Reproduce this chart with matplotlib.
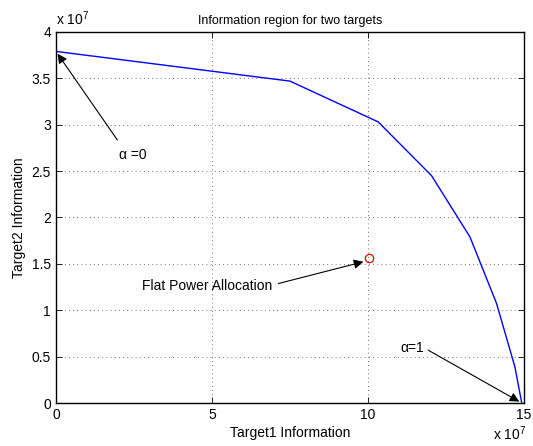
import matplotlib
matplotlib.use('Agg')
import matplotlib.pyplot as plt

# boundary of the information region (units of 1e7)
target1 = [0, 7.5, 10.33, 12.04, 13.27, 14.12, 14.71, 14.93]
target2 = [3.79, 3.47, 3.03, 2.45, 1.79, 1.075, 0.39, 0.0]

# flat power allocation point
flat_x = [10.04]
flat_y = [1.56]

x_ticks = [0, 5, 10, 15]
y_ticks = [0, 0.5, 1, 1.5, 2, 2.5, 3, 3.5, 4]

plt.rcParams['font.family'] = ['Liberation Sans', 'DejaVu Sans']
plt.rcParams['mathtext.fontset'] = 'custom'
plt.rcParams['mathtext.rm'] = 'Liberation Sans'

fig = plt.figure(figsize=(5.33, 4.46), dpi=100)
ax = fig.add_axes([0.105, 0.0964, 0.878, 0.832])

ax.plot(target1, target2, color='blue', linewidth=1.0)
ax.plot(flat_x, flat_y, 'o', mfc='none', mec='red', ms=6, mew=0.9)

ax.set_xlim(0, 15)
ax.set_ylim(0, 4)
ax.set_xticks(x_ticks)
ax.set_yticks(y_ticks)
ax.set_xticklabels([str(t) for t in x_ticks])
ax.set_yticklabels(['0', '0.5', '1', '1.5', '2', '2.5', '3', '3.5', '4'])
ax.tick_params(direction='in', top=True, right=True, labelsize=10, length=4, width=0.6)
ax.grid(True, linestyle=(0, (1, 4)), color='#444444', linewidth=0.6)
for s in ax.spines.values():
    s.set_linewidth(1.0)

ax.set_title('Information region for two targets', fontsize=9, pad=6)
ax.set_xlabel('Target1 Information', fontsize=10, labelpad=3)
ax.set_ylabel('Target2 Information', fontsize=10, labelpad=4)

# manual exponent labels like matlab
ax.text(0.0, 1.01, r'x 10$^{\mathrm{7}}$', transform=ax.transAxes, fontsize=10, ha='left', va='bottom')
ax.text(1.005, -0.058, r'x 10$^{\mathrm{7}}$', transform=ax.transAxes, fontsize=10, ha='right', va='top')

arrow = dict(arrowstyle='-|>', color='black', lw=0.8, mutation_scale=14)

ax.annotate('', xy=(target1[0], target2[0]), xytext=(2.02, 2.81), arrowprops=arrow)
ax.text(2.02, 2.67, 'α =0', fontsize=10, ha='left', va='center')

ax.annotate('', xy=(flat_x[0] - 0.1, flat_y[0] - 0.03), xytext=(7.04, 1.28), arrowprops=arrow)
ax.text(2.75, 1.265, 'Flat Power Allocation', fontsize=10, ha='left', va='center')

ax.annotate('', xy=(target1[-1], target2[-1]), xytext=(11.85, 0.585), arrowprops=arrow)
ax.text(11.05, 0.59, 'α=1', fontsize=10, ha='left', va='center')

fig.savefig('out.png', dpi=100)
